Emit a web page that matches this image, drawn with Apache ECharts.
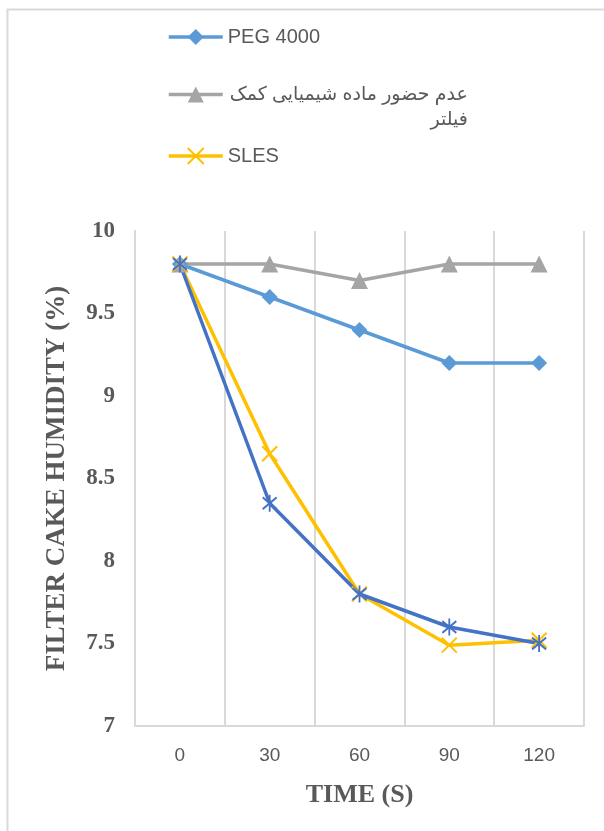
<!DOCTYPE html>
<html>
<head>
<meta charset="utf-8">
<script src="https://cdn.jsdelivr.net/npm/echarts@6/dist/echarts.min.js"></script>
<style>
  html, body { margin: 0; padding: 0; background: #ffffff; }
  #chart { width: 604px; height: 831px; }
</style>
</head>
<body>
<div id="chart"></div>
<script>
// Sampling times (s) and filter cake humidity (%) per additive
const times = ['0', '30', '60', '90', '120'];
const pegName = 'PEG 4000';
const noAidName = 'عدم حضور ماده شیمیایی کمک فیلتر';
const slesName = 'SLES';
const pegValues = [9.8, 9.6, 9.4, 9.2, 9.2];
const noAidValues = [9.8, 9.8, 9.7, 9.8, 9.8];
const slesValues = [9.8, 8.65, 7.8, 7.49, 7.52];
const fourthValues = [9.8, 8.35, 7.8, 7.6, 7.5];
const yTicks = { min: 7, max: 10, step: 0.5 };

const serif = '"Liberation Serif", "Times New Roman", serif';
const sans = '"Liberation Sans", Arial, "DejaVu Sans", sans-serif';
const textGray = '#595959';
const gridGray = '#d9d9d9';

const asterisk = 'path://M10,0 L10,20 M3,3 L17,17 M3,17 L17,3';
const cross = 'path://M0,0 L20,20 M0,20 L20,0';

// one legend block per series so each entry can be placed on its own row
function legendAt(name, top, extra) {
  return Object.assign({
    data: [name],
    left: 167,
    top: top,
    padding: 0,
    orient: 'vertical',
    itemWidth: 54,
    itemHeight: 20,
    itemGap: 0,
    selectedMode: false,
    lineStyle: { width: 3.5 },
    textStyle: { fontFamily: sans, fontSize: 20, color: textGray }
  }, extra || {});
}

const chart = echarts.init(document.getElementById('chart'), null, { renderer: 'canvas' });
chart.setOption({
  animation: false,
  backgroundColor: '#ffffff',
  graphic: [{
    type: 'rect',
    shape: { x: 7.5, y: 9.5, width: 700, height: 900 },
    style: { fill: 'none', stroke: gridGray, lineWidth: 2 },
    silent: true
  }],
  legend: [
    legendAt(pegName, 27),
    legendAt(noAidName, 85, {
      formatter: function () {
        return '{a|عدم حضور ماده شیمیایی کمک}\n{a|فیلتر}';
      },
      textStyle: {
        fontFamily: sans, fontSize: 19, color: textGray,
        padding: [25, 0, 0, 0],
        rich: { a: { width: 240, align: 'right', lineHeight: 25, fontFamily: sans, fontSize: 19, color: textGray } }
      }
    }),
    legendAt(slesName, 146)
  ],
  grid: { left: 135, right: 20, top: 231, bottom: 105 },
  xAxis: {
    type: 'category',
    data: times,
    boundaryGap: true,
    name: 'TIME (S)',
    nameLocation: 'middle',
    nameGap: 56,
    nameTextStyle: { fontFamily: serif, fontWeight: 'bold', fontSize: 26, color: textGray },
    axisLine: { show: true, lineStyle: { color: gridGray, width: 2 } },
    axisTick: { show: false },
    axisLabel: { fontFamily: sans, fontSize: 19, color: textGray, margin: 20 },
    splitLine: { show: true, interval: 0, lineStyle: { color: gridGray, width: 2 } }
  },
  yAxis: {
    type: 'value',
    min: yTicks.min,
    max: yTicks.max,
    interval: yTicks.step,
    name: 'FILTER CAKE HUMIDITY (%)',
    nameLocation: 'middle',
    nameGap: 64,
    nameRotate: 90,
    nameTextStyle: { fontFamily: serif, fontWeight: 'bold', fontSize: 27, color: textGray },
    axisLine: { show: true, lineStyle: { color: gridGray, width: 2 } },
    axisTick: { show: false },
    axisLabel: { fontFamily: serif, fontWeight: 'bold', fontSize: 23, color: textGray, margin: 20 },
    splitLine: { show: false }
  },
  series: [
    {
      name: pegName, type: 'line', data: pegValues,
      symbol: 'diamond', symbolSize: 16,
      lineStyle: { color: '#5B9BD5', width: 3.5 },
      itemStyle: { color: '#5B9BD5' },
      emphasis: { disabled: true }
    },
    {
      name: noAidName, type: 'line', data: noAidValues,
      symbol: 'triangle', symbolSize: 17,
      lineStyle: { color: '#A5A5A5', width: 3.5 },
      itemStyle: { color: '#A5A5A5' },
      emphasis: { disabled: true }
    },
    {
      name: slesName, type: 'line', data: slesValues,
      symbol: cross, symbolSize: 15,
      lineStyle: { color: '#FFC000', width: 3.5 },
      itemStyle: { color: '#FFC000', borderColor: '#FFC000', borderWidth: 2 },
      emphasis: { disabled: true }
    },
    {
      name: 'Series 4', type: 'line', data: fourthValues,
      symbol: asterisk, symbolSize: [14, 17],
      lineStyle: { color: '#4472C4', width: 3.5 },
      itemStyle: { color: '#4472C4', borderColor: '#4472C4', borderWidth: 2 },
      emphasis: { disabled: true }
    }
  ]
});
</script>
</body>
</html>
